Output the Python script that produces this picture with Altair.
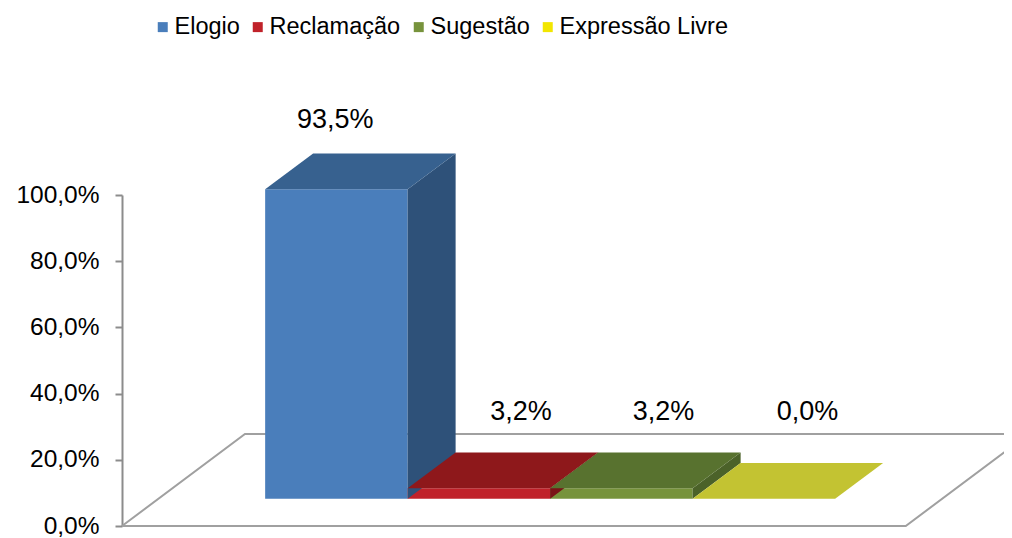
import altair as alt
import pandas as pd

# ---- data ----
SERIES = ["Elogio", "Reclamação", "Sugestão", "Expressão Livre"]
VALUES = [0.935, 0.032, 0.032, 0.0]
Y_TICKS = [0.0, 0.2, 0.4, 0.6, 0.8, 1.0]

# ---- styles ----
LEGEND_COLORS = ["#4A7EBB", "#C0222A", "#77933C", "#F2E600"]
SIDE_COLORS = ["#2E5179", "#7A1317", "#4B6229", "#9A9A28"]
TOP_COLORS = ["#37618F", "#8E181B", "#58722F", "#C3C332"]
FONT = "Liberation Sans"

# ---- 3D geometry (oblique projection), in scale units ----
GAP = 0.75            # gap on each side of the group, in bar widths
Z0, Z1 = 0.295, 0.685 # bar depth range, fraction of floor depth
DX, DY = 0.863, 0.278 # full floor depth offset (x units, value units)
LABEL_FLOOR = 0.245   # lowest anchor for data labels (value units)
FLOOR_W = len(SERIES) + 2 * GAP
U = 142.5             # pixels per bar width
PLOT_W, PLOT_H = 882, 331

front_rows, side_rows, top_rows, label_rows = [], [], [], []
for i, (s, v) in enumerate(zip(SERIES, VALUES)):
    xl = GAP + i
    front_rows.append(dict(series=s, x=xl + Z0 * DX, x2=xl + 1 + Z0 * DX,
                           y=Z0 * DY, y2=Z0 * DY + v))
    for z in (Z0, Z1):
        side_rows.append(dict(series=s, color=SIDE_COLORS[i], X=xl + 1 + z * DX,
                              lo=z * DY, hi=z * DY + v))
        top_rows.append(dict(series=s, color=TOP_COLORS[i], Y=v + z * DY,
                             xl=xl + z * DX, xr=xl + 1 + z * DX))
    lz = Z0 + (Z1 - Z0) * (1 - v)
    label_rows.append(dict(series=s, value=v, lx=xl + 0.5 + lz * DX - 0.03,
                           ly=max(v + Z1 * DY, LABEL_FLOOR)))

front = pd.DataFrame(front_rows)
side = pd.DataFrame(side_rows)
top = pd.DataFrame(top_rows)
labels = pd.DataFrame(label_rows)
floor = pd.DataFrame(dict(
    k=[0, 1, 2, 3, 4],
    X=[0, FLOOR_W, FLOOR_W + DX, DX, 0],
    Y=[0, 0, DY, DY, 0],
))

xs = alt.Scale(domain=[0, PLOT_W / U], nice=False, zero=False)
ys = alt.Scale(domain=[0, 1], nice=False, zero=False)
yaxis = alt.Axis(values=Y_TICKS, title=None, grid=False,
                 labelExpr="replace(format(datum.value, '.1%'), '.', ',')",
                 labelFont=FONT, labelFontSize=24.5, labelColor="#000000",
                 domainColor="#8C8C8C", domainWidth=2, tickColor="#8C8C8C",
                 tickWidth=2, tickSize=7, labelPadding=16)

floor_layer = alt.Chart(floor).mark_line(color="#A0A0A0", strokeWidth=2).encode(
    x=alt.X("X:Q", scale=xs, axis=None),
    y=alt.Y("Y:Q", scale=ys, axis=yaxis),
    order="k:Q",
)

front_layer = alt.Chart(front).mark_rect().encode(
    x=alt.X("x:Q", scale=xs, axis=None),
    x2="x2:Q",
    y=alt.Y("y:Q", scale=ys, axis=yaxis),
    y2="y2:Q",
    color=alt.Color("series:N", scale=alt.Scale(domain=SERIES, range=LEGEND_COLORS),
                    legend=alt.Legend(orient="none", direction="horizontal",
                                      legendX=29, legendY=-180, title=None,
                                      symbolType="square", symbolSize=100,
                                      symbolStrokeWidth=0, labelFont=FONT,
                                      labelFontSize=23.5, labelColor="#000000",
                                      labelLimit=0, labelOffset=0,
                                      columnPadding=6, padding=0)),
)

side_layer = alt.Chart(side).mark_area(orient="vertical").encode(
    x=alt.X("X:Q", scale=xs, axis=None),
    y=alt.Y("lo:Q", scale=ys, axis=yaxis),
    y2="hi:Q",
    detail="series:N",
    fill=alt.Fill("color:N", scale=None),
)

top_layer = alt.Chart(top).mark_area(orient="horizontal").encode(
    y=alt.Y("Y:Q", scale=ys, axis=yaxis),
    x=alt.X("xl:Q", scale=xs, axis=None),
    x2="xr:Q",
    detail="series:N",
    fill=alt.Fill("color:N", scale=None),
)

label_layer = alt.Chart(labels).mark_text(
    font=FONT, fontSize=27, color="#000000", dy=-33, baseline="middle"
).transform_calculate(
    txt="replace(format(datum.value, '.1%'), '.', ',')"
).encode(
    x=alt.X("lx:Q", scale=xs, axis=None),
    y=alt.Y("ly:Q", scale=ys, axis=yaxis),
    text="txt:N",
)

chart = alt.layer(floor_layer, front_layer, side_layer, top_layer, label_layer).properties(
    width=PLOT_W, height=PLOT_H,
    autosize=alt.AutoSizeParams(type="none"),
    padding={"left": 114, "top": 187, "right": 0, "bottom": 12},
).configure_view(stroke=None)

chart.save("out.html", embed_options={"renderer": "svg", "actions": False})
